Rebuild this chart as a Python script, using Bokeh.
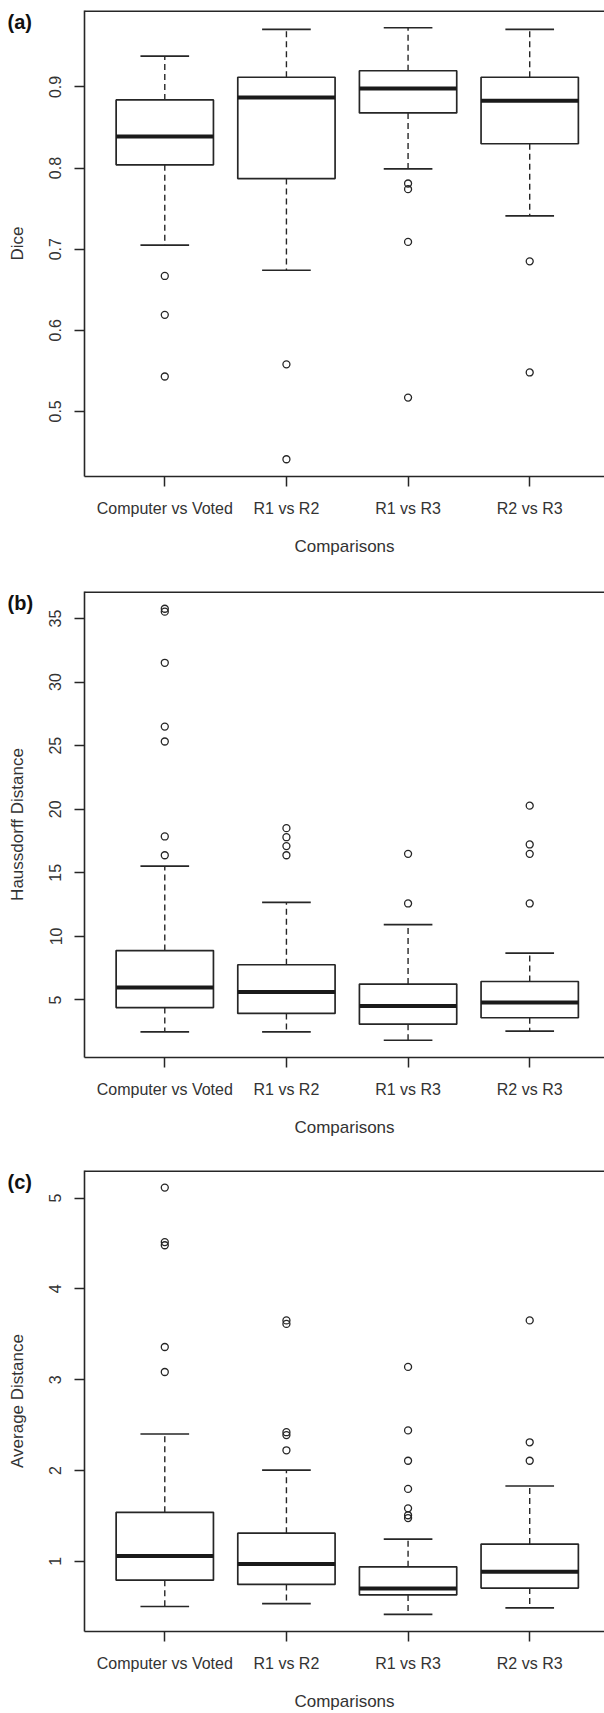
import numpy as np
from bokeh.plotting import figure
from bokeh.models import FixedTicker, Range1d, Span, Title
from bokeh.layouts import column
from bokeh.embed import file_html
from bokeh.resources import INLINE

# ---------------- data ----------------
categories = ["Computer vs Voted", "R1 vs R2", "R1 vs R3", "R2 vs R3"]

# (a) Dice
dice_lower = [0.705, 0.674, 0.799, 0.741]
dice_q1 = [0.804, 0.787, 0.868, 0.830]
dice_median = [0.839, 0.887, 0.898, 0.883]
dice_q3 = [0.884, 0.912, 0.920, 0.912]
dice_upper = [0.938, 0.971, 0.973, 0.971]
dice_outliers = [[0.667, 0.619, 0.543],
                 [0.558, 0.441],
                 [0.781, 0.774, 0.709, 0.517],
                 [0.685, 0.548]]
dice_ticks = [0.5, 0.6, 0.7, 0.8, 0.9]

# (b) Haussdorff distance
hd_lower = [2.49, 2.49, 1.83, 2.55]
hd_q1 = [4.40, 3.94, 3.09, 3.60]
hd_median = [5.97, 5.63, 4.52, 4.80]
hd_q3 = [8.88, 7.77, 6.25, 6.45]
hd_upper = [15.52, 12.67, 10.93, 8.68]
hd_outliers = [[35.77, 35.54, 31.52, 26.50, 25.33, 17.86, 16.38],
               [18.51, 17.80, 17.10, 16.38],
               [16.49, 12.59],
               [20.28, 17.23, 16.49, 12.59]]
hd_ticks = [5, 10, 15, 20, 25, 30, 35]

# (c) Average distance
ad_lower = [0.503, 0.535, 0.416, 0.488]
ad_q1 = [0.793, 0.746, 0.631, 0.706]
ad_median = [1.060, 0.972, 0.702, 0.885]
ad_q3 = [1.540, 1.310, 0.940, 1.191]
ad_upper = [2.402, 2.005, 1.246, 1.830]
ad_outliers = [[5.115, 4.515, 4.480, 3.360, 3.085],
               [3.653, 3.614, 2.422, 2.390, 2.223],
               [3.141, 2.442, 2.108, 1.798, 1.584, 1.508, 1.477],
               [3.653, 2.311, 2.108]]
ad_ticks = [1, 2, 3, 4, 5]

# ---------------- style ----------------
FONT = "Liberation Sans"
TXT = "#333333"
LINE = "#262626"
FIG_W = 604
BORDER_L = 84
FRAME_W = FIG_W - BORDER_L
FULL_FRAME_W = 525.5   # width of R's full plot region (right side is cut off)
FRAME_H = 466


def make_panel(tag, ylabel, lower, q1, med, q3, upper, outliers, yticks, height,
               top_border):
    n = len(categories)
    xs = np.arange(1, n + 1, dtype=float)
    lower = np.asarray(lower, float)
    upper = np.asarray(upper, float)
    q1 = np.asarray(q1, float)
    q3 = np.asarray(q3, float)
    med = np.asarray(med, float)

    allv = np.concatenate([lower, upper] + [np.asarray(o, float) for o in outliers])
    lo, hi = allv.min(), allv.max()
    pad = 0.04 * (hi - lo)
    y0, y1 = lo - pad, hi + pad
    x0 = 0.5 - 0.04 * n
    x1 = x0 + n * 1.08 * FRAME_W / FULL_FRAME_W

    p = figure(width=FIG_W, height=height,
               x_range=Range1d(x0, x1), y_range=Range1d(y0, y1),
               output_backend="svg", toolbar_location=None,
               min_border_left=BORDER_L, min_border_right=0,
               min_border_top=top_border,
               min_border_bottom=height - top_border - FRAME_H,
               background_fill_color="white", border_fill_color="white")
    p.outline_line_color = None
    p.grid.visible = False

    # whiskers (dashed)
    p.segment(x0=xs, y0=q3, x1=xs, y1=upper, line_color=LINE, line_width=1.4,
              line_dash="6 4")
    p.segment(x0=xs, y0=q1, x1=xs, y1=lower, line_color=LINE, line_width=1.4,
              line_dash="6 4")
    # staples
    p.segment(x0=xs - 0.2, y0=upper, x1=xs + 0.2, y1=upper, line_color=LINE, line_width=1.7)
    p.segment(x0=xs - 0.2, y0=lower, x1=xs + 0.2, y1=lower, line_color=LINE, line_width=1.7)
    # boxes
    p.vbar(x=xs, width=0.8, bottom=q1, top=q3, fill_color="white",
           line_color=LINE, line_width=1.7)
    # medians
    p.segment(x0=xs - 0.4, y0=med, x1=xs + 0.4, y1=med, line_color="#1a1a1a", line_width=4)
    # outliers
    ox = np.concatenate([np.full(len(o), xs[i]) for i, o in enumerate(outliers)])
    oy = np.concatenate([np.asarray(o, float) for o in outliers])
    p.scatter(x=ox, y=oy, marker="circle", size=7, fill_color=None,
              line_color=LINE, line_width=1.3)

    # top frame line (half of it is clipped by the frame)
    p.add_layout(Span(location=y1, dimension="width", line_color=LINE, line_width=3.2))

    # left axis
    ya = p.yaxis[0]
    ya.ticker = FixedTicker(ticks=yticks)
    ya.major_label_overrides = {t: ("%g" % t) for t in yticks}
    ya.major_label_orientation = "vertical"
    ya.minor_tick_line_color = None
    ya.major_tick_out = 10
    ya.major_tick_in = 0
    ya.major_tick_line_color = LINE
    ya.major_tick_line_width = 1.5
    ya.axis_line_color = LINE
    ya.axis_line_width = 1.6
    ya.major_label_standoff = 13
    ya.major_label_text_font = FONT
    ya.major_label_text_font_size = "16px"
    ya.major_label_text_color = TXT
    ya.axis_label = ylabel
    ya.axis_label_standoff = 20
    ya.axis_label_text_font = FONT
    ya.axis_label_text_font_size = "17px"
    ya.axis_label_text_font_style = "normal"
    ya.axis_label_text_color = TXT

    # bottom axis
    xa = p.xaxis[0]
    xa.ticker = FixedTicker(ticks=list(xs))
    xa.major_label_overrides = {float(x): c for x, c in zip(xs, categories)}
    xa.minor_tick_line_color = None
    xa.major_tick_out = 10
    xa.major_tick_in = 0
    xa.major_tick_line_color = LINE
    xa.major_tick_line_width = 1.5
    xa.axis_line_color = LINE
    xa.axis_line_width = 1.6
    xa.major_label_standoff = 13
    xa.major_label_text_font = FONT
    xa.major_label_text_font_size = "16px"
    xa.major_label_text_color = TXT
    xa.axis_label = "Comparisons"
    xa.axis_label_standoff = 17
    xa.axis_label_text_font = FONT
    xa.axis_label_text_font_size = "17px"
    xa.axis_label_text_font_style = "normal"
    xa.axis_label_text_color = TXT

    # panel tag, drawn in the top border and pushed down beside the frame
    p.add_layout(Title(text="\n" + tag, align="left", offset=-77,
                       vertical_align="bottom", standoff=-44,
                       text_font=FONT, text_font_size="20px",
                       text_font_style="bold", text_color="#111111"), "above")
    return p


pa = make_panel("(a)", "Dice", dice_lower, dice_q1, dice_median, dice_q3, dice_upper,
                dice_outliers, dice_ticks, 580, 10)
pb = make_panel("(b)", "Haussdorff Distance", hd_lower, hd_q1, hd_median, hd_q3, hd_upper,
                hd_outliers, hd_ticks, 580, 11)
pc = make_panel("(c)", "Average Distance", ad_lower, ad_q1, ad_median, ad_q3, ad_upper,
                ad_outliers, ad_ticks, 553, 10)

layout = column(pa, pb, pc, spacing=0)
open("out.html", "w").write(file_html(layout, INLINE))
